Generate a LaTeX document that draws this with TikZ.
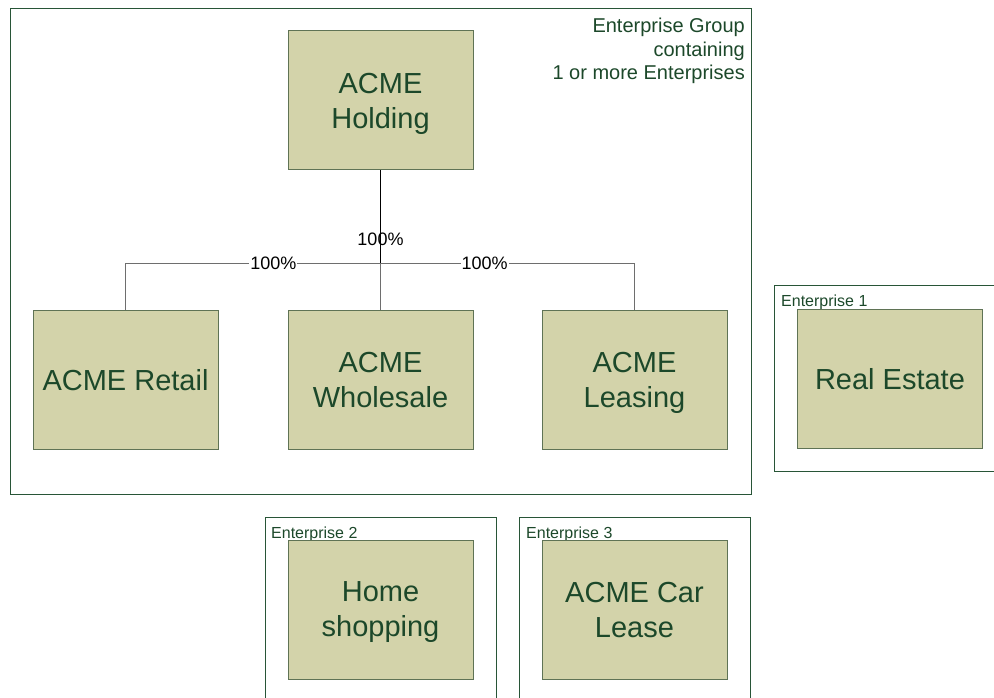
\documentclass[tikz,border=0pt]{standalone}
\usepackage{fontspec}
\setmainfont{Liberation Sans}
\usepackage{tikz}
\definecolor{boxfill}{RGB}{211,211,170}
\definecolor{boxline}{RGB}{95,115,85}
\definecolor{darkgreen}{RGB}{28,72,42}
\definecolor{frameline}{RGB}{40,85,55}
\definecolor{linkgray}{RGB}{110,110,110}

\begin{document}
\begin{tikzpicture}[x=1pt, y=-1pt,
	unit/.style={draw=boxline, fill=boxfill, line width=1pt, minimum width=185pt, minimum height=139pt, align=center, text=darkgreen, font=\fontsize{29}{35}\selectfont, inner sep=0pt, text depth=0pt},
	frame/.style={draw=frameline, line width=1pt, anchor=north west, inner sep=0pt, minimum width=231pt, minimum height=186pt},
	tag/.style={text=darkgreen, font=\fontsize{16}{19}\selectfont, anchor=base west, inner sep=0pt},
	share/.style={font=\fontsize{18}{21}\selectfont, inner sep=1pt}]
	\clip (0,0) rectangle (994,698);

	\node[frame, minimum width=741pt, minimum height=486pt] (group) at (10,8) {};
	\node[frame] (ent1) at (774,285) {};
	\node[frame] (ent2) at (265,517) {};
	\node[frame] (ent3) at (519,517) {};

	\node[align=right, anchor=north east, inner sep=0pt, text=darkgreen, font=\fontsize{20}{23.5}\selectfont] at (745,18) (grouplabel) {Enterprise Group\\containing\\1 or more Enterprises};
	\node[tag] at (781,306) (tag1) {Enterprise 1};
	\node[tag] at (271,538) (tag2) {Enterprise 2};
	\node[tag] at (526,538) (tag3) {Enterprise 3};

	\node[unit] at (380.5,100.5) (holding) {ACME\\Holding};
	\node[unit] at (125.5,379.5) (retail) {ACME Retail};
	\node[unit] at (380.5,379.5) (wholesale) {ACME\\Wholesale};
	\node[unit] at (634.5,379.5) (leasing) {ACME\\Leasing};
	\node[unit] at (890,378.5) (realestate) {Real Estate};
	\node[unit] at (380.5,609.5) (homeshop) {Home\\shopping};
	\node[unit] at (634.5,609.5) (carlease) {ACME Car\\Lease};

	\coordinate (split) at (380.5,263);
	\draw[black, line width=1pt] (holding) -- node[share, pos=0.74] (share2) {100\%} (split);
	\draw[linkgray, line width=1pt] (split) -- (wholesale);
	\draw[linkgray, line width=1pt] (split) -| node[share, fill=white, text=black, pos=0.21] (share1) {100\%} (retail);
	\draw[linkgray, line width=1pt] (split) -| node[share, fill=white, text=black, pos=0.205] (share3) {100\%} (leasing);
\end{tikzpicture}
\end{document}
